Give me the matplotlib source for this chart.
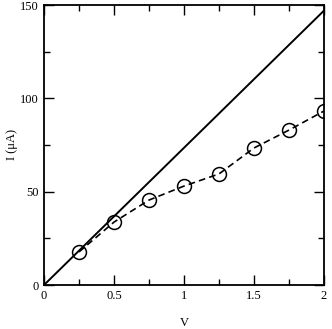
import numpy as np
import matplotlib.pyplot as plt
from matplotlib.ticker import MultipleLocator

# ideal (solid) line
ideal_v = [0.0, 2.0]
ideal_i = [0.0, 147.0]

# measured points (dashed with circles)
volts = [0.25, 0.5, 0.75, 1.0, 1.25, 1.5, 1.75, 2.0]
current = [17.7, 33.7, 45.5, 53.0, 59.5, 73.4, 83.0, 93.2]

plt.rcParams['font.family'] = ['Liberation Serif', 'DejaVu Serif']

fig = plt.figure(figsize=(3.32, 3.29), dpi=100)
ax = fig.add_axes([44/332, 1-285/329, 280/332, 280/329])

ax.plot(ideal_v, ideal_i, color='black', lw=1.4)
ax.plot(volts, current, color='black', lw=1.2, ls=(0, (4, 2.5)),
        marker='o', ms=10, mfc='none', mec='black', mew=1.1)

ax.set_xlim(0, 2)
ax.set_ylim(0, 150)
ax.xaxis.set_major_locator(MultipleLocator(0.5))
ax.xaxis.set_minor_locator(MultipleLocator(0.25))
ax.yaxis.set_major_locator(MultipleLocator(50))
ax.yaxis.set_minor_locator(MultipleLocator(25))
ax.xaxis.set_major_formatter(plt.FuncFormatter(lambda v, p: '%g' % v))
ax.tick_params(which='both', direction='in', top=True, right=True, labelsize=9, width=1)
ax.tick_params(which='major', length=7)
ax.tick_params(which='minor', length=4)
for s in ax.spines.values():
    s.set_linewidth(1.3)

ax.set_xlabel('V', fontsize=9, labelpad=11)
ax.set_ylabel('I (μA)', fontsize=9, labelpad=2)

fig.savefig('out.png', dpi=100)
